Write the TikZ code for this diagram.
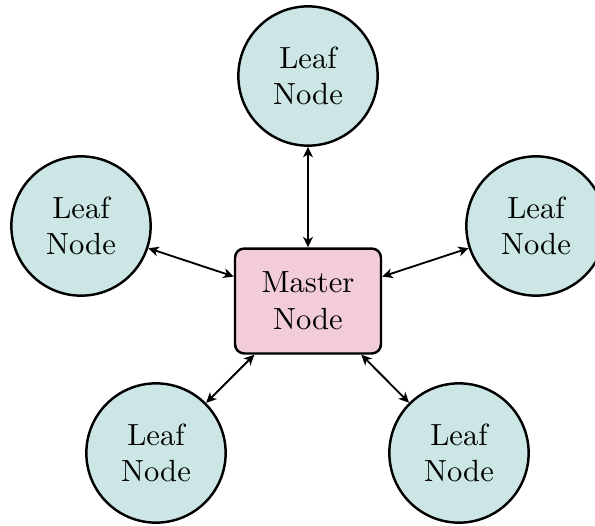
\documentclass[tikz,border=0pt]{standalone}
\usetikzlibrary{arrows.meta}
\definecolor{leaffill}{RGB}{204,230,230}
\definecolor{masterfill}{RGB}{242,204,217}
\begin{document}
\begin{tikzpicture}[x={(0.3268pt,0pt)},y={(0pt,-0.3268pt)},
  leafnode/.style={circle,draw,thick,fill=leaffill,minimum size=1.6cm,align=center,inner sep=0pt},
  masternode/.style={rectangle,rounded corners=3pt,draw,thick,fill=masterfill,minimum width=47.7pt,minimum height=34.3pt,align=center,inner sep=0pt},
  link/.style={semithick,{Stealth[length=3.4pt,width=3.2pt,inset=1pt]}-{Stealth[length=3.4pt,width=3.2pt,inset=1pt]}}]
\useasboundingbox (0,0) rectangle (595,525);
\node[masternode] (m) at (308,301) {Master\\Node};
\node[leafnode] (t) at (308,76) {Leaf\\Node};
\node[leafnode] (l) at (81,226) {Leaf\\Node};
\node[leafnode] (r) at (536,226) {Leaf\\Node};
\node[leafnode] (bl) at (156,453) {Leaf\\Node};
\node[leafnode] (br) at (459,453) {Leaf\\Node};
\draw[link] (m) -- (t);
\draw[link] (m) -- (l);
\draw[link] (m) -- (r);
\draw[link] (m) -- (bl);
\draw[link] (m) -- (br);
\end{tikzpicture}
\end{document}
